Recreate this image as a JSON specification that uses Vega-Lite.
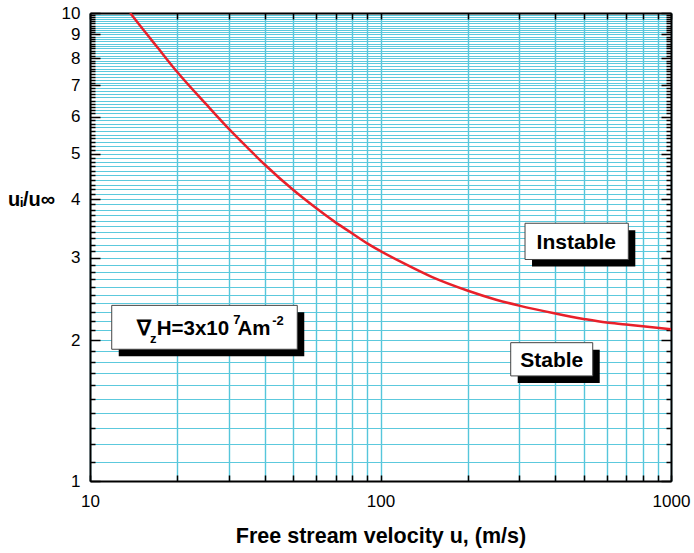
{
  "$schema": "https://vega.github.io/schema/vega-lite/v6.json",
  "width": 581,
  "height": 468,
  "autosize": "none",
  "padding": {"left": 90, "top": 13, "right": 23, "bottom": 72},
  "background": "white",
  "config": {"font": "Liberation Sans", "view": {"stroke": null}, "axis": {"gridColor": "#5cc9dd"}},
  "datasets": {
    "curve": [
      {"u": 13.75, "r": 10}, {"u": 15, "r": 9.33}, {"u": 17, "r": 8.47}, {"u": 20, "r": 7.47},
      {"u": 25, "r": 6.4}, {"u": 30, "r": 5.66}, {"u": 35, "r": 5.14}, {"u": 40, "r": 4.74},
      {"u": 50, "r": 4.19}, {"u": 60, "r": 3.83}, {"u": 70, "r": 3.57}, {"u": 80, "r": 3.38},
      {"u": 90, "r": 3.22}, {"u": 100, "r": 3.1}, {"u": 120, "r": 2.92}, {"u": 150, "r": 2.73},
      {"u": 200, "r": 2.55}, {"u": 250, "r": 2.44}, {"u": 300, "r": 2.37}, {"u": 400, "r": 2.28},
      {"u": 500, "r": 2.22}, {"u": 600, "r": 2.18}, {"u": 700, "r": 2.16}, {"u": 800, "r": 2.14},
      {"u": 1000, "r": 2.11}
    ],
    "boxes": [
      {"x1": 11.88, "x2": 51.7, "y1": 2.373, "y2": 1.912},
      {"x1": 314.4, "x2": 712.9, "y1": 3.554, "y2": 2.974},
      {"x1": 280.7, "x2": 537.7, "y1": 1.975, "y2": 1.677}
    ],
    "boxtext": [
      {"x": 472, "y": 3.134, "t": "Instable"},
      {"x": 388.5, "y": 1.753, "t": "Stable"}
    ],
    "formula": [
      {"x": 14.48, "y": 2.048, "t": "∇"},
      {"x": 16.97, "y": 2.048, "t": "H=3x10"},
      {"x": 32.2, "y": 2.048, "t": "Am"}
    ],
    "scripts": [
      {"x": 16.09, "y": 1.972, "t": "z"},
      {"x": 31.1, "y": 2.169, "t": "7"},
      {"x": 42.4, "y": 2.151, "t": "-2"}
    ]
  },
  "resolve": {"axis": {"x": "independent", "y": "independent"}},
  "layer": [
    {
      "data": {"name": "curve"},
      "mark": {"type": "line", "opacity": 0},
      "encoding": {
        "x": {"field": "u", "type": "quantitative",
          "scale": {"type": "log", "domain": [10, 1000], "nice": false},
          "axis": {"orient": "bottom", "values": [10,20,30,40,50,60,70,80,90,100,200,300,400,500,600,700,800,900,1000],
            "labelExpr": "(datum.value == 10 || datum.value == 100 || datum.value == 1000) ? '' + datum.value : ''",
            "labelOverlap": false, "labelFontSize": 17, "labelColor": "black", "labelPadding": 18, "labelFlush": false,
            "tickSize": -6, "tickColor": "black", "tickWidth": 1.5,
            "grid": true, "gridColor": "#55c6db", "gridWidth": 1.4,
            "domainColor": "black", "domainWidth": 2,
            "title": "Free stream velocity u, (m/s)", "titleFontSize": 21.5, "titleFontWeight": "bold", "titleColor": "black",
            "titleBaseline": "alphabetic", "titleY": 61}},
        "y": {"field": "r", "type": "quantitative",
          "scale": {"type": "log", "domain": [1, 10], "nice": false},
          "axis": {"orient": "left",
            "values": [1,1.1,1.2,1.3,1.4,1.5,1.6,1.7,1.8,1.9,2,2.1,2.2,2.3,2.4,2.5,2.6,2.7,2.8,2.9,3,3.1,3.2,3.3,3.4,3.5,3.6,3.7,3.8,3.9,4,4.1,4.2,4.3,4.4,4.5,4.6,4.7,4.8,4.9,5,5.1,5.2,5.3,5.4,5.5,5.6,5.7,5.8,5.9,6,6.1,6.2,6.3,6.4,6.5,6.6,6.7,6.8,6.9,7,7.1,7.2,7.3,7.4,7.5,7.6,7.7,7.8,7.9,8,8.1,8.2,8.3,8.4,8.5,8.6,8.7,8.8,8.9,9,9.1,9.2,9.3,9.4,9.5,9.6,9.7,9.8,9.9,10],
            "labelExpr": "datum.value % 1 === 0 ? '' + datum.value : ''",
            "labelOverlap": false, "labelFontSize": 17, "labelColor": "black", "labelPadding": 20, "labelFlush": false,
            "tickSize": {"condition": {"test": "datum.value % 1 === 0", "value": -10}, "value": -5},
            "tickColor": "black", "tickWidth": 1.5,
            "grid": true, "gridColor": "#5cc9dd", "gridWidth": 1,
            "domainColor": "black", "domainWidth": 2,
            "title": "uᵢ/u∞", "titleAngle": 0, "titleFontSize": 20, "titleFontWeight": "bold", "titleColor": "black",
            "titleAlign": "center", "titleBaseline": "alphabetic", "titleX": -59, "titleY": 192}}
      }
    },
    {
      "data": {"name": "curve"},
      "mark": {"type": "line", "opacity": 0},
      "encoding": {
        "x": {"field": "u", "type": "quantitative",
          "scale": {"type": "log", "domain": [10, 1000], "nice": false},
          "axis": {"orient": "top", "values": [10,20,30,40,50,60,70,80,90,100,200,300,400,500,600,700,800,900,1000],
            "labels": false, "tickSize": -6, "tickColor": "black", "tickWidth": 1.5, "grid": false,
            "domainColor": "black", "domainWidth": 2, "title": null}},
        "y": {"field": "r", "type": "quantitative",
          "scale": {"type": "log", "domain": [1, 10], "nice": false},
          "axis": {"orient": "right",
            "values": [1,1.1,1.2,1.3,1.4,1.5,1.6,1.7,1.8,1.9,2,2.1,2.2,2.3,2.4,2.5,2.6,2.7,2.8,2.9,3,3.1,3.2,3.3,3.4,3.5,3.6,3.7,3.8,3.9,4,4.1,4.2,4.3,4.4,4.5,4.6,4.7,4.8,4.9,5,5.1,5.2,5.3,5.4,5.5,5.6,5.7,5.8,5.9,6,6.1,6.2,6.3,6.4,6.5,6.6,6.7,6.8,6.9,7,7.1,7.2,7.3,7.4,7.5,7.6,7.7,7.8,7.9,8,8.1,8.2,8.3,8.4,8.5,8.6,8.7,8.8,8.9,9,9.1,9.2,9.3,9.4,9.5,9.6,9.7,9.8,9.9,10],
            "labels": false,
            "tickSize": {"condition": {"test": "datum.value % 1 === 0", "value": -10}, "value": -5},
            "tickColor": "black", "tickWidth": 1.5, "grid": false,
            "domainColor": "black", "domainWidth": 2, "title": null}}
      }
    },
    {
      "data": {"name": "boxes"},
      "mark": {"type": "rect", "fill": "black", "xOffset": 7, "x2Offset": 7, "yOffset": 7, "y2Offset": 7},
      "encoding": {
        "x": {"field": "x1", "type": "quantitative", "scale": {"type": "log", "domain": [10, 1000], "nice": false}, "axis": null},
        "x2": {"field": "x2"},
        "y": {"field": "y1", "type": "quantitative", "scale": {"type": "log", "domain": [1, 10], "nice": false}, "axis": null},
        "y2": {"field": "y2"}
      }
    },
    {
      "data": {"name": "boxes"},
      "mark": {"type": "rect", "fill": "white", "stroke": "#444444", "strokeWidth": 1},
      "encoding": {
        "x": {"field": "x1", "type": "quantitative", "scale": {"type": "log", "domain": [10, 1000], "nice": false}, "axis": null},
        "x2": {"field": "x2"},
        "y": {"field": "y1", "type": "quantitative", "scale": {"type": "log", "domain": [1, 10], "nice": false}, "axis": null},
        "y2": {"field": "y2"}
      }
    },
    {
      "data": {"name": "curve"},
      "mark": {"type": "line", "color": "#e8202a", "strokeWidth": 2.5, "interpolate": "monotone", "clip": true},
      "encoding": {
        "x": {"field": "u", "type": "quantitative", "scale": {"type": "log", "domain": [10, 1000], "nice": false}, "axis": null},
        "y": {"field": "r", "type": "quantitative", "scale": {"type": "log", "domain": [1, 10], "nice": false}, "axis": null}
      }
    },
    {
      "data": {"name": "boxtext"},
      "mark": {"type": "text", "fontSize": 21, "fontWeight": "bold", "align": "center", "baseline": "alphabetic", "color": "black"},
      "encoding": {
        "x": {"field": "x", "type": "quantitative", "scale": {"type": "log", "domain": [10, 1000], "nice": false}, "axis": null},
        "y": {"field": "y", "type": "quantitative", "scale": {"type": "log", "domain": [1, 10], "nice": false}, "axis": null},
        "text": {"field": "t"}
      }
    },
    {
      "data": {"name": "formula"},
      "mark": {"type": "text", "fontSize": 20.5, "fontWeight": "bold", "align": "left", "baseline": "alphabetic", "color": "black"},
      "encoding": {
        "x": {"field": "x", "type": "quantitative", "scale": {"type": "log", "domain": [10, 1000], "nice": false}, "axis": null},
        "y": {"field": "y", "type": "quantitative", "scale": {"type": "log", "domain": [1, 10], "nice": false}, "axis": null},
        "text": {"field": "t"}
      }
    },
    {
      "data": {"name": "scripts"},
      "mark": {"type": "text", "fontSize": 13, "fontWeight": "bold", "align": "left", "baseline": "alphabetic", "color": "black"},
      "encoding": {
        "x": {"field": "x", "type": "quantitative", "scale": {"type": "log", "domain": [10, 1000], "nice": false}, "axis": null},
        "y": {"field": "y", "type": "quantitative", "scale": {"type": "log", "domain": [1, 10], "nice": false}, "axis": null},
        "text": {"field": "t"}
      }
    }
  ]
}
